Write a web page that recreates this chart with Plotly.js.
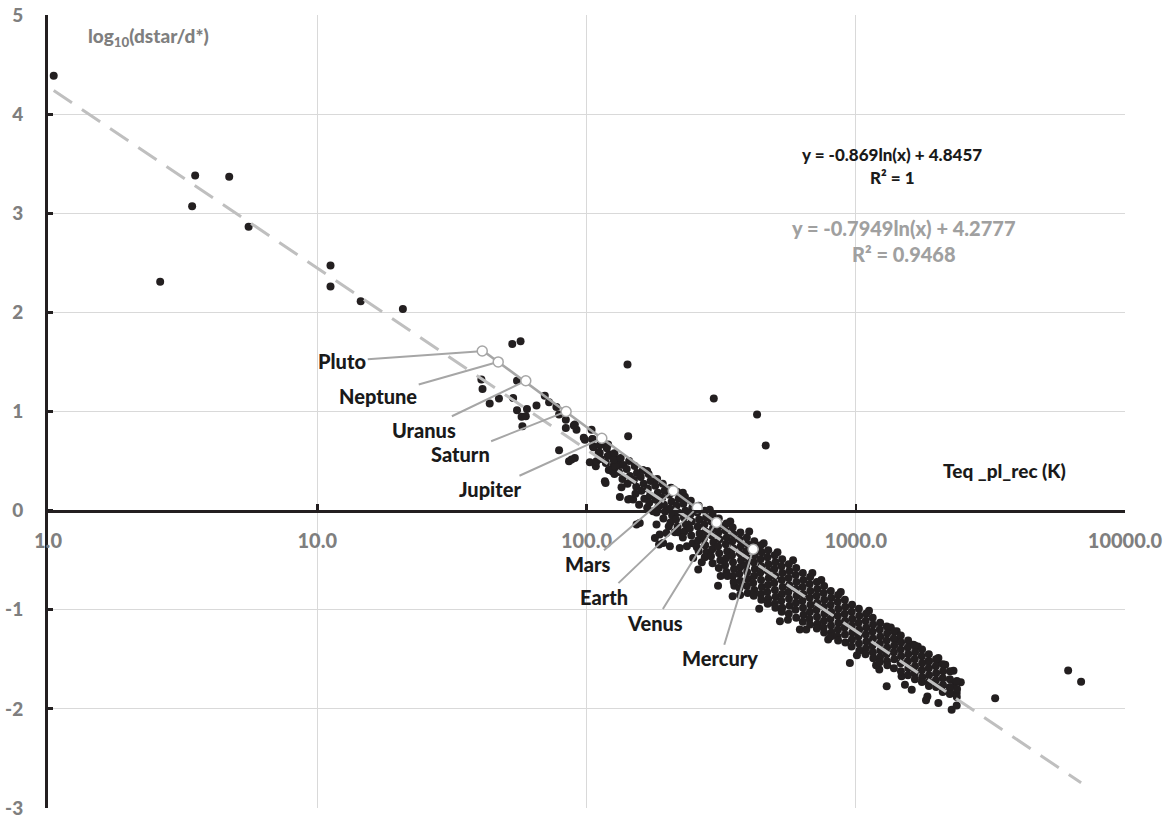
<!DOCTYPE html>
<html><head><meta charset="utf-8">
<script src="https://cdn.plot.ly/plotly-3.0.1.min.js"></script>
<style>html,body{margin:0;padding:0;background:#fff}#chart{width:1171px;height:819px}</style>
</head><body><div id="chart"></div>
<script>
// ---------- DATA ----------
const xTickVals = [1, 10, 100, 1000, 10000];
const xTickText = ['1.0', '10.0', '100.0', '1000.0', '10000.0'];
const yTickVals = [-3, -2, -1, 0, 1, 2, 3, 4, 5];
const yTickText = ['-3', '-2', '-1', '0', '1', '2', '3', '4', '5'];

// Solar system planets
const solarNames = ['Pluto', 'Neptune', 'Uranus', 'Saturn', 'Jupiter', 'Mars', 'Earth', 'Venus', 'Mercury'];
const solarTeq  = [41, 47, 59.5, 84, 114, 210, 258, 304, 416];
const solarLogD = [1.61, 1.50, 1.31, 1.00, 0.73, 0.20, 0.03, -0.12, -0.39];

// Trend-line coefficients (y = a ln(x) + b)
const fitAllA = -0.7949, fitAllB = 4.2777, fitAllR2 = '0.9468';
const fitSolA = -0.869,  fitSolB = 4.8457, fitSolR2 = '1';

// Exoplanets: Teq (K) and log10(dstar/d*)
const exoTeq = [
  // isolated points
  1.05, 3.52, 4.71, 3.43, 5.56, 2.61, 11.2, 11.2, 14.5, 20.8, 53.0, 56.9, 142, 297, 430, 463, 3294, 6150, 6870,
  // sparse region 40-160 K
  40.7, 41.1, 43.7, 47.3, 53.4, 55.2, 55.2, 60.1, 65.2, 57.4, 59.5, 57.8,
  70, 72.6, 77.3, 79.1, 83.8, 89.7, 91.8, 97.7, 104.4, 79.1, 86.1, 90.5,
  102.9, 108.3, 117.7, 124.5, 134.9, 142.8, 149, 156.8, 112, 120.3, 142.8, 127.4, 133,
  117, 133, 145, 157.7, 153.4, 182, 187, 198, 213, 179.5, 192.6, 176.7, 124, 147,
  186, 204, 222, 249, 260, 308, 349, 354, 523, 620,
  83.8, 90.5, 88, 98.6, 105.3, 105.8, 108.9, 115.3, 122, 125.6,
  // scattered edge of the hot end
  2027, 2150, 2307, 2339, 2455, 2239, 2371, 2027, 1845, 1824, 2271, 2371, 1303, 1523, 1614, 1419, 1439, 1636, 1859, 951, 1223,
  // extra scattered points along the band edges
  168, 228, 287, 342, 402, 455, 512, 585, 690, 745, 880, 1120, 1350, 1700, 2010,
  236, 268, 315, 372, 438, 560, 655, 790, 1010, 1190, 1480,
  // dense band
  105, 106,
  112, 111, 113,
  119, 120, 118, 121,
  127, 126, 128, 127,
  134, 137, 132, 136,
  144, 141, 145, 142,
  151, 154, 150, 153, 152,
  162, 159, 163, 160, 164,
  170, 173, 169, 172, 171, 168,
  183, 180, 184, 181, 185, 182,
  192, 195, 191, 194, 196, 193,
  206, 203, 207, 204, 208, 205, 202,
  217, 220, 216, 219, 215, 218, 221,
  232, 229, 233, 230, 234, 231, 228,
  244, 247, 243, 246, 242, 245, 248,
  261, 258, 262, 259, 263, 260, 257, 261,
  275, 278, 274, 277, 273, 276, 279, 275,
  294, 291, 295, 292, 296, 293, 290, 294,
  310, 313, 309, 312, 308, 311, 314, 310,
  331, 328, 332, 329, 333, 330, 327, 331, 334,
  349, 352, 348, 351, 347, 350, 353, 349, 352,
  373, 370, 374, 371, 375, 372, 369, 373, 370,
  394, 397, 393, 396, 392, 395, 398, 394, 397,
  420, 417, 421, 418, 422, 419, 416, 420, 418,
  444, 447, 443, 446, 442, 445, 448, 444, 446,
  473, 470, 474, 471, 475, 472, 469, 473, 471,
  500, 503, 499, 502, 498, 501, 504, 500, 503,
  533, 530, 534, 531, 535, 532, 529, 533, 531,
  564, 567, 563, 566, 562, 565, 568, 564,
  601, 598, 602, 599, 603, 600, 597, 601,
  636, 639, 635, 638, 634, 637, 640, 636,
  677, 674, 678, 675, 679, 676, 673, 677,
  717, 720, 716, 719, 715, 718, 721, 717,
  763, 760, 764, 761, 765, 762, 759, 763,
  808, 811, 807, 810, 806, 809, 812, 808,
  860, 857, 861, 858, 862, 859, 856, 860,
  911, 914, 910, 913, 909, 912, 915,
  969, 966, 970, 967, 971, 968, 965,
  1027, 1031, 1025, 1030, 1024, 1028, 1032,
  1093, 1089, 1094, 1090, 1095, 1091, 1087,
  1156, 1160, 1155, 1159, 1154, 1158, 1162,
  1232, 1228, 1233, 1229, 1234, 1230, 1226,
  1304, 1308, 1303, 1307, 1302, 1306, 1310,
  1388, 1384, 1389, 1385, 1390, 1386,
  1470, 1474, 1469, 1473, 1468, 1472,
  1565, 1561, 1566, 1562, 1567, 1563,
  1657, 1661, 1656, 1660, 1655, 1659,
  1763, 1759, 1764, 1760, 1765, 1761,
  1868, 1872, 1867, 1871, 1866, 1870,
  1987, 1983, 1988, 1984, 1989,
  2106, 2110, 2105, 2109, 2104,
  2240, 2236, 2241, 2237,
  2374, 2378, 2373
];
const exoLogD = [
  4.386, 3.38, 3.367, 3.07, 2.863, 2.31, 2.472, 2.26, 2.112, 2.035, 1.682, 1.708, 1.473, 1.13, 0.969, 0.656, -1.894, -1.614, -1.726,
  1.322, 1.228, 1.08, 1.13, 1.137, 1.309, 1.012, 1.026, 1.06, 0.946, 0.952, 0.851,
  1.16, 1.093, 1.046, 0.969, 0.834, 0.858, 0.817, 0.734, 0.817, 0.608, 0.497, 0.532,
  0.487, 0.447, 0.279, 0.397, 0.235, 0.111, 0.111, 0.06, 0.582, 0.666, 0.75, 0.515, 0.464,
  0.296, 0.138, 0.118, -0.124, -0.141, -0.141, -0.242, -0.225, -0.219, -0.276, -0.326, -0.007, 0.414, 0.313,
  -0.343, -0.36, -0.376, -0.477, -0.595, -0.757, -0.865, -0.757, -1.117, -1.2,
  0.918, 0.868, 0.515, 0.716, 0.723, 0.649, 0.497, 0.683, 0.565, 0.447,
  -1.486, -1.554, -1.615, -1.732, -1.732, -1.789, -1.84, -1.94, -1.874, -1.914, -2.008, -1.965, -1.773, -1.756, -1.806, -1.218, -1.302, -1.352, -1.52, -1.537, -1.604,
  0.40, 0.18, 0.01, -0.11, -0.21, -0.33, -0.42, -0.50, -0.63, -0.70, -0.82, -1.01, -1.18, -1.37, -1.52,
  -0.36, -0.52, -0.66, -0.85, -0.99, -1.10, -1.20, -1.30, -1.46, -1.56, -1.67,
  0.72, 0.64,
  0.66, 0.59, 0.52,
  0.63, 0.55, 0.48, 0.41,
  0.58, 0.51, 0.44, 0.37,
  0.53, 0.46, 0.39, 0.32,
  0.50, 0.42, 0.35, 0.27,
  0.45, 0.38, 0.31, 0.24, 0.17,
  0.41, 0.34, 0.27, 0.20, 0.12,
  0.37, 0.30, 0.22, 0.15, 0.08, 0.03,
  0.32, 0.25, 0.18, 0.11, 0.04, -0.02,
  0.27, 0.20, 0.13, 0.06, -0.01, -0.08,
  0.23, 0.16, 0.09, 0.02, -0.05, -0.12, -0.16,
  0.19, 0.12, 0.05, -0.02, -0.09, -0.16, -0.22,
  0.14, 0.07, 0.00, -0.07, -0.14, -0.21, -0.27,
  0.10, 0.03, -0.04, -0.11, -0.18, -0.25, -0.33,
  0.05, -0.02, -0.09, -0.16, -0.23, -0.30, -0.37, -0.41,
  0.00, -0.07, -0.14, -0.21, -0.28, -0.35, -0.42, -0.47,
  -0.04, -0.11, -0.18, -0.25, -0.32, -0.39, -0.46, -0.53,
  -0.08, -0.15, -0.22, -0.29, -0.36, -0.43, -0.50, -0.58,
  -0.13, -0.20, -0.27, -0.34, -0.41, -0.48, -0.55, -0.62, -0.66,
  -0.17, -0.24, -0.31, -0.38, -0.45, -0.52, -0.59, -0.66, -0.72,
  -0.22, -0.29, -0.36, -0.43, -0.50, -0.57, -0.64, -0.71, -0.78,
  -0.27, -0.34, -0.41, -0.48, -0.55, -0.62, -0.69, -0.76, -0.83,
  -0.31, -0.38, -0.45, -0.52, -0.59, -0.66, -0.73, -0.80, -0.86,
  -0.35, -0.42, -0.49, -0.56, -0.63, -0.70, -0.77, -0.84, -0.90,
  -0.40, -0.47, -0.54, -0.61, -0.68, -0.75, -0.82, -0.89, -0.94,
  -0.45, -0.52, -0.59, -0.66, -0.73, -0.80, -0.87, -0.94, -0.98,
  -0.49, -0.56, -0.63, -0.70, -0.77, -0.84, -0.91, -0.98, -1.02,
  -0.54, -0.61, -0.68, -0.75, -0.82, -0.89, -0.96, -1.04,
  -0.58, -0.65, -0.72, -0.79, -0.86, -0.93, -1.00, -1.08,
  -0.63, -0.70, -0.77, -0.84, -0.91, -0.98, -1.05, -1.12,
  -0.67, -0.74, -0.81, -0.88, -0.95, -1.02, -1.09, -1.15,
  -0.72, -0.79, -0.86, -0.93, -1.00, -1.07, -1.14, -1.19,
  -0.76, -0.83, -0.90, -0.97, -1.04, -1.11, -1.18, -1.23,
  -0.81, -0.88, -0.95, -1.02, -1.09, -1.16, -1.23, -1.27,
  -0.85, -0.92, -0.99, -1.06, -1.13, -1.20, -1.27, -1.31,
  -0.90, -0.97, -1.04, -1.11, -1.18, -1.25, -1.33,
  -0.95, -1.02, -1.09, -1.16, -1.23, -1.30, -1.37,
  -0.99, -1.06, -1.13, -1.20, -1.27, -1.34, -1.41,
  -1.04, -1.11, -1.18, -1.25, -1.32, -1.39, -1.45,
  -1.08, -1.15, -1.22, -1.29, -1.36, -1.43, -1.49,
  -1.13, -1.20, -1.27, -1.34, -1.41, -1.48, -1.53,
  -1.17, -1.24, -1.31, -1.38, -1.45, -1.52, -1.56,
  -1.22, -1.29, -1.36, -1.43, -1.50, -1.59,
  -1.26, -1.33, -1.40, -1.47, -1.54, -1.62,
  -1.31, -1.38, -1.45, -1.52, -1.59, -1.66,
  -1.36, -1.43, -1.50, -1.57, -1.64, -1.70,
  -1.40, -1.47, -1.54, -1.61, -1.68, -1.73,
  -1.45, -1.52, -1.59, -1.66, -1.73, -1.77,
  -1.50, -1.57, -1.64, -1.71, -1.78,
  -1.55, -1.62, -1.69, -1.76, -1.83,
  -1.62, -1.70, -1.78, -1.85,
  -1.72, -1.80, -1.88
];
if (exoTeq.length !== exoLogD.length) console.error('length mismatch', exoTeq.length, exoLogD.length);

// ---------- STYLE / LAYOUT ----------
const FONT = 'Lato, "Open Sans", sans-serif';
const W = 900;
const labelOffsets = [[-140,10],[-120,34],[-102,49],[-106,42],[-112,51],[-85,73],[-93,89],[-62,100],[-33,109]];

function fitLine(a, b, xs) {
  const lo = Math.min(...xs), hi = Math.max(...xs);
  return { x: [lo, hi], y: [a * Math.log(lo) + b, a * Math.log(hi) + b] };
}
const allFit = fitLine(fitAllA, fitAllB, exoTeq);
const solFit = fitLine(fitSolA, fitSolB, solarTeq);

const traces = [
  { type: 'scatter', mode: 'markers', x: exoTeq, y: exoLogD, hoverinfo: 'skip',
    marker: { color: '#231f20', size: 8, line: { width: 0 } } },
  { type: 'scatter', mode: 'lines', x: allFit.x, y: allFit.y, hoverinfo: 'skip',
    line: { color: '#bfbfbf', width: 3, dash: '22px,12px' } },
  { type: 'scatter', mode: 'lines', x: solFit.x, y: solFit.y, hoverinfo: 'skip',
    line: { color: '#a6a6a6', width: 2.5 } },
  { type: 'scatter', mode: 'markers', x: solarTeq, y: solarLogD, hoverinfo: 'skip',
    marker: { color: '#ffffff', size: 10, line: { color: '#a6a6a6', width: 1.5 } } }
];

const annotations = [];
solarNames.forEach((n, i) => {
  annotations.push({
    x: Math.log10(solarTeq[i]), y: solarLogD[i], xref: 'x', yref: 'y',
    text: n, showarrow: true, arrowhead: 0, arrowwidth: 2, arrowcolor: '#a6a6a6',
    ax: labelOffsets[i][0], ay: labelOffsets[i][1], standoff: 5,
    font: { family: FONT, size: 20, color: '#1a1a1a', weight: W }
  });
});
function paperText(text, x, y, size, color, xanchor) {
  annotations.push({ xref: 'paper', yref: 'paper', x: x, y: y, text: text, showarrow: false,
    xanchor: xanchor || 'center', yanchor: 'middle',
    font: { family: FONT, size: size, color: color, weight: W } });
}
paperText('log<sub>10</sub>(dstar/d*)', 0.0353, 0.9726, 19, '#7f7f7f', 'left');
paperText('Teq _pl_rec (K)', 0.8885, 0.4256, 19, '#1a1a1a');
paperText('y = ' + fitSolA + 'ln(x) + ' + fitSolB, 0.7841, 0.8247, 17, '#1a1a1a');
paperText('R² = ' + fitSolR2, 0.7837, 0.7945, 17, '#1a1a1a');
paperText('y = ' + fitAllA + 'ln(x) + ' + fitAllB, 0.7948, 0.7314, 20, '#a0a0a0');
paperText('R² = ' + fitAllR2, 0.7948, 0.6986, 20, '#a0a0a0');

const layout = {
  width: 1171, height: 819,
  margin: { l: 48, r: 46, t: 15, b: 11 },
  paper_bgcolor: '#ffffff', plot_bgcolor: '#ffffff',
  showlegend: false,
  font: { family: FONT },
  xaxis: {
    type: 'log', range: [0, 4],
    tickvals: xTickVals, ticktext: xTickText,
    tickfont: { family: FONT, size: 20, color: '#7f7f7f', weight: W },
    showgrid: true, gridcolor: '#d9d9d9', gridwidth: 1,
    showline: true, linecolor: '#231f20', linewidth: 3,
    ticks: 'inside', ticklen: 6, tickwidth: 2.5, tickcolor: '#231f20',
    anchor: 'free', position: 0.375, ticklabelstandoff: 11,
    zeroline: false
  },
  yaxis: {
    range: [-3, 5], tickvals: yTickVals, ticktext: yTickText,
    tickfont: { family: FONT, size: 19, color: '#7f7f7f', weight: W },
    showgrid: true, gridcolor: '#d9d9d9', gridwidth: 1,
    showline: true, linecolor: '#231f20', linewidth: 3,
    ticks: 'inside', ticklen: 5, tickwidth: 3, tickcolor: '#231f20',
    ticklabelstandoff: 18, zeroline: false
  },
  annotations: annotations
};

Plotly.newPlot('chart', traces, layout, { staticPlot: true, displayModeBar: false });
</script>
</body></html>
